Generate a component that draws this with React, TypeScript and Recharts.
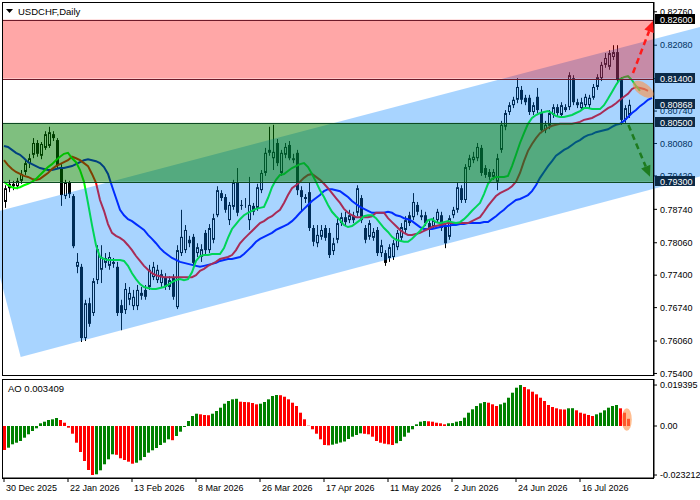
import React from 'react';
import { ComposedChart, Bar, Line, XAxis, YAxis, ReferenceArea, Cell } from 'recharts';

// ---- categories / tick labels ----
const dateTickIdx = [0, 16, 32, 48, 64, 80, 96, 112, 128, 144];
const dateLabels = ['30 Dec 2025', '22 Jan 2026', '13 Feb 2026', '8 Mar 2026', '26 Mar 2026', '17 Apr 2026', '11 May 2026', '2 Jun 2026', '24 Jun 2026', '16 Jul 2026'];
const priceTicks = [0.8276, 0.8208, 0.814, 0.8074, 0.8008, 0.7942, 0.7874, 0.7806, 0.774, 0.7674, 0.7606, 0.754];
const aoTicks = [0.019395, 0, -0.023212];

// ---- USDCHF daily OHLC ----
const openP = [
  0.7889, 0.7917, 0.7926, 0.7921, 0.7932, 0.795, 0.7968, 0.7985, 0.8009, 0.7983,
  0.7999, 0.8003, 0.8027, 0.8015, 0.796, 0.7901, 0.7928, 0.7901, 0.7757, 0.7757,
  0.7612, 0.7683, 0.7663, 0.773, 0.7751, 0.7765, 0.7759, 0.7767, 0.7757, 0.7679,
  0.7669, 0.769, 0.7677, 0.7677, 0.7698, 0.771, 0.7716, 0.7736, 0.773, 0.7724,
  0.7736, 0.7716, 0.7736, 0.7675, 0.7785, 0.7791, 0.7812, 0.7818, 0.7785, 0.7777,
  0.7826, 0.7791, 0.7812, 0.7862, 0.7907, 0.7899, 0.7852, 0.7879, 0.7928, 0.7883,
  0.7885, 0.7852, 0.7881, 0.7877, 0.7913, 0.7948, 0.7989, 0.7978, 0.8009, 0.7948,
  0.7985, 0.8005, 0.7978, 0.7989, 0.7913, 0.7899, 0.7909, 0.7836, 0.7805, 0.7818,
  0.7836, 0.7826, 0.7789, 0.7812, 0.7846, 0.7858, 0.7852, 0.7862, 0.7867, 0.7897,
  0.7836, 0.7818, 0.7816, 0.7832, 0.7785, 0.7785, 0.7775, 0.7777, 0.7797, 0.7816,
  0.7832, 0.7862, 0.7858, 0.7883, 0.7858, 0.7862, 0.7846, 0.784, 0.7852, 0.7862,
  0.7838, 0.7818, 0.7862, 0.7873, 0.7917, 0.7893, 0.796, 0.7974, 0.7978, 0.7999,
  0.7958, 0.795, 0.794, 0.793, 0.7995, 0.8042, 0.8072, 0.8086, 0.8097, 0.8117,
  0.8101, 0.8101, 0.8072, 0.8103, 0.8072, 0.8035, 0.8044, 0.8066, 0.8082, 0.8066,
  0.8076, 0.8082, 0.8141, 0.8092, 0.808, 0.8086, 0.8086, 0.8101, 0.8123, 0.8141,
  0.8168, 0.8164, 0.8184, 0.8194, 0.8137, 0.8056, 0.8066,
];
const highP = [
  0.7923, 0.7934, 0.7932, 0.7938, 0.7954, 0.7974, 0.7987, 0.8019, 0.8015, 0.8011,
  0.8033, 0.8042, 0.8033, 0.8019, 0.7966, 0.7934, 0.7932, 0.7905, 0.7785, 0.7763,
  0.769, 0.7694, 0.7734, 0.7801, 0.7801, 0.7785, 0.7787, 0.7775, 0.7767, 0.769,
  0.7724, 0.7716, 0.771, 0.772, 0.7716, 0.772, 0.7761, 0.7767, 0.7761, 0.7751,
  0.7744, 0.7738, 0.7742, 0.7801, 0.7873, 0.7842, 0.782, 0.7824, 0.7805, 0.7803,
  0.7832, 0.7844, 0.7865, 0.7921, 0.7913, 0.7905, 0.7889, 0.7934, 0.7958, 0.7893,
  0.7897, 0.794, 0.7887, 0.7926, 0.7954, 0.7999, 0.8042, 0.8046, 0.8017, 0.7995,
  0.8009, 0.8013, 0.7987, 0.7995, 0.7921, 0.7905, 0.7928, 0.7842, 0.7842, 0.7842,
  0.7842, 0.7836, 0.7816, 0.7856, 0.7867, 0.7869, 0.7873, 0.7869, 0.7923, 0.7903,
  0.7842, 0.7852, 0.7836, 0.7838, 0.7812, 0.7791, 0.7803, 0.7812, 0.7832, 0.7846,
  0.786, 0.7869, 0.7907, 0.7889, 0.7873, 0.7869, 0.7852, 0.7858, 0.7875, 0.7869,
  0.7844, 0.7862, 0.7879, 0.7928, 0.7923, 0.7966, 0.7985, 0.7991, 0.8009, 0.8005,
  0.7964, 0.7956, 0.7956, 0.7987, 0.8054, 0.8076, 0.8092, 0.8103, 0.8141, 0.8125,
  0.8107, 0.8107, 0.8092, 0.8121, 0.8078, 0.8054, 0.8076, 0.8088, 0.8088, 0.8092,
  0.8088, 0.8153, 0.8147, 0.8099, 0.8101, 0.8109, 0.8107, 0.8129, 0.8149, 0.8174,
  0.8192, 0.8198, 0.8208, 0.8208, 0.8143, 0.8086, 0.8097,
];
const lowP = [
  0.7877, 0.7909, 0.7913, 0.7915, 0.7926, 0.7944, 0.7958, 0.7978, 0.7981, 0.7976,
  0.7995, 0.7999, 0.8013, 0.7958, 0.7881, 0.7895, 0.7897, 0.7795, 0.7744, 0.7604,
  0.7606, 0.7635, 0.7657, 0.7722, 0.7724, 0.7755, 0.7751, 0.7755, 0.7657, 0.7628,
  0.7661, 0.7679, 0.7669, 0.7669, 0.769, 0.769, 0.771, 0.773, 0.7724, 0.7716,
  0.771, 0.771, 0.769, 0.7671, 0.7779, 0.7785, 0.7797, 0.7759, 0.7777, 0.7767,
  0.7783, 0.7785, 0.7805, 0.7858, 0.7891, 0.7867, 0.7842, 0.7873, 0.786, 0.7873,
  0.7877, 0.7832, 0.7862, 0.7871, 0.7907, 0.7942, 0.7983, 0.7954, 0.7962, 0.7942,
  0.7978, 0.7974, 0.7968, 0.7903, 0.7869, 0.7887, 0.783, 0.7799, 0.7797, 0.7812,
  0.781, 0.7775, 0.7781, 0.7805, 0.784, 0.784, 0.7846, 0.7846, 0.786, 0.7846,
  0.7805, 0.7812, 0.781, 0.7779, 0.7777, 0.7759, 0.7767, 0.7771, 0.7791, 0.781,
  0.7826, 0.784, 0.7852, 0.7862, 0.7852, 0.784, 0.7818, 0.7834, 0.7846, 0.783,
  0.7795, 0.7812, 0.7856, 0.7867, 0.7887, 0.7887, 0.7954, 0.7968, 0.7972, 0.7942,
  0.7938, 0.7934, 0.7934, 0.7913, 0.7989, 0.8035, 0.8066, 0.808, 0.809, 0.8088,
  0.8086, 0.8066, 0.8066, 0.807, 0.8029, 0.8029, 0.8037, 0.806, 0.8064, 0.806,
  0.8072, 0.8076, 0.8086, 0.808, 0.8074, 0.808, 0.808, 0.8097, 0.8117, 0.8135,
  0.8162, 0.8158, 0.8178, 0.8131, 0.8046, 0.805, 0.806,
];
const closeP = [
  0.7917, 0.7926, 0.7921, 0.7932, 0.7946, 0.7968, 0.7978, 0.8009, 0.7987, 0.8007,
  0.8027, 0.8031, 0.8019, 0.7964, 0.7903, 0.7928, 0.7905, 0.7799, 0.7767, 0.7612,
  0.7683, 0.7641, 0.7728, 0.7793, 0.7777, 0.7775, 0.7777, 0.7763, 0.7663, 0.7663,
  0.7712, 0.7704, 0.7696, 0.771, 0.7704, 0.7696, 0.7751, 0.7757, 0.7751, 0.7742,
  0.7716, 0.773, 0.7696, 0.7791, 0.7818, 0.7832, 0.7805, 0.7765, 0.7797, 0.7793,
  0.7791, 0.7836, 0.7856, 0.7913, 0.7897, 0.7873, 0.7883, 0.7928, 0.7867, 0.7881,
  0.7887, 0.7883, 0.7869, 0.7919, 0.7948, 0.7989, 0.7995, 0.7991, 0.7968, 0.7989,
  0.8001, 0.7978, 0.7974, 0.7913, 0.7899, 0.7895, 0.7836, 0.7808, 0.7822, 0.7832,
  0.7816, 0.7781, 0.7805, 0.7846, 0.7858, 0.7848, 0.7862, 0.7852, 0.7917, 0.7852,
  0.7812, 0.7846, 0.7828, 0.7785, 0.7801, 0.7765, 0.7797, 0.7805, 0.7826, 0.7838,
  0.7852, 0.7846, 0.7889, 0.7869, 0.7862, 0.7846, 0.7832, 0.7852, 0.7869, 0.7836,
  0.7805, 0.7856, 0.7873, 0.7919, 0.7893, 0.796, 0.7978, 0.7981, 0.8001, 0.7948,
  0.7944, 0.794, 0.795, 0.7978, 0.8046, 0.807, 0.8086, 0.8097, 0.8123, 0.8097,
  0.8092, 0.8072, 0.8086, 0.8076, 0.8035, 0.8046, 0.807, 0.8082, 0.807, 0.8086,
  0.8082, 0.8147, 0.8092, 0.8086, 0.8092, 0.8103, 0.8101, 0.8123, 0.8143, 0.8168,
  0.8182, 0.8192, 0.8194, 0.8137, 0.8056, 0.808, 0.80868,
];

// ---- Alligator lines (shifted forward) ----
const lips = [
  0.793, 0.7923, 0.7919, 0.7917, 0.7919, 0.7923, 0.7926, 0.793, 0.7936, 0.7944,
  0.7952, 0.796, 0.7966, 0.7974, 0.7981, 0.7987, 0.7989, 0.7978, 0.797, 0.7954,
  0.793, 0.7887, 0.7842, 0.7801, 0.7777, 0.7773, 0.7771, 0.7771, 0.7771, 0.7771,
  0.7769, 0.7759, 0.7744, 0.7732, 0.7722, 0.7716, 0.7714, 0.7712, 0.7712, 0.7714,
  0.7716, 0.772, 0.7726, 0.773, 0.7732, 0.773, 0.7732, 0.7746, 0.7769, 0.7779,
  0.7781, 0.7781, 0.7783, 0.7783, 0.7783, 0.7795, 0.7816, 0.7834, 0.7844, 0.7854,
  0.7862, 0.7867, 0.7871, 0.7875, 0.7877, 0.7879, 0.7897, 0.7919, 0.7934, 0.7944,
  0.7946, 0.7952, 0.7958, 0.7962, 0.7966, 0.7968, 0.796, 0.7946, 0.793, 0.7913,
  0.7899, 0.7883, 0.7869, 0.786, 0.7852, 0.7842, 0.7838, 0.784, 0.7846, 0.7852,
  0.786, 0.7862, 0.7862, 0.7856, 0.7846, 0.7836, 0.7828, 0.7818, 0.7812, 0.781,
  0.7808, 0.7808, 0.7814, 0.7822, 0.783, 0.784, 0.7852, 0.7854, 0.7848, 0.7846,
  0.7848, 0.785, 0.7848, 0.7846, 0.7848, 0.7854, 0.7862, 0.7871, 0.7879, 0.7887,
  0.7905, 0.7926, 0.7936, 0.794, 0.794, 0.794, 0.7942, 0.7962, 0.7985, 0.8009,
  0.8029, 0.8048, 0.806, 0.8066, 0.807, 0.8072, 0.8074, 0.807, 0.8064, 0.8062,
  0.8062, 0.8064, 0.8066, 0.807, 0.8074, 0.808, 0.808, 0.8078, 0.8078, 0.8078,
  0.8086, 0.8099, 0.8113, 0.8127, 0.8139, 0.8143, 0.8145, 0.8137, 0.8125, 0.8115,
];
const teeth = [
  0.7974, 0.7964, 0.7956, 0.795, 0.7946, 0.7942, 0.794, 0.7936, 0.7934, 0.7936,
  0.7942, 0.7948, 0.7956, 0.7962, 0.7966, 0.797, 0.7974, 0.7981, 0.7978, 0.7974,
  0.7968, 0.7962, 0.7946, 0.7928, 0.7893, 0.7871, 0.7844, 0.7826, 0.782, 0.7816,
  0.781, 0.7801, 0.7791, 0.7779, 0.7769, 0.7759, 0.7751, 0.7744, 0.774, 0.7738,
  0.7736, 0.7736, 0.7736, 0.7736, 0.7736, 0.7736, 0.7736, 0.7736, 0.774, 0.7749,
  0.7753, 0.7759, 0.7763, 0.7767, 0.7773, 0.7775, 0.7777, 0.7781, 0.7791, 0.7805,
  0.7814, 0.7822, 0.783, 0.7838, 0.7846, 0.785, 0.7856, 0.786, 0.7867, 0.7873,
  0.7887, 0.7903, 0.7917, 0.7923, 0.793, 0.7938, 0.7944, 0.7946, 0.794, 0.7934,
  0.7926, 0.7917, 0.7907, 0.7897, 0.7887, 0.7875, 0.7867, 0.7862, 0.7858, 0.7858,
  0.7858, 0.7858, 0.786, 0.7867, 0.7867, 0.7867, 0.7856, 0.7848, 0.784, 0.7832,
  0.7826, 0.7822, 0.7822, 0.7824, 0.7826, 0.783, 0.7834, 0.7838, 0.784, 0.7842,
  0.7844, 0.7846, 0.7846, 0.7846, 0.7846, 0.7846, 0.7846, 0.785, 0.7854, 0.7858,
  0.7869, 0.7881, 0.7891, 0.7901, 0.7907, 0.7911, 0.7915, 0.7921, 0.793, 0.7948,
  0.7972, 0.7993, 0.8007, 0.8019, 0.8029, 0.8035, 0.804, 0.8044, 0.8046, 0.8048,
  0.8048, 0.8048, 0.8048, 0.805, 0.8052, 0.8056, 0.8058, 0.806, 0.8064, 0.8068,
  0.8074, 0.808, 0.8084, 0.809, 0.8097, 0.8103, 0.8109, 0.8119, 0.8123, 0.8121,
  0.8119, 0.8115,
];
const jaw = [
  0.8003, 0.8001, 0.7995, 0.7989, 0.7985, 0.7978, 0.797, 0.7966, 0.7962, 0.7958,
  0.7956, 0.7954, 0.7954, 0.7956, 0.7958, 0.7958, 0.796, 0.7962, 0.7966, 0.797,
  0.7974, 0.7976, 0.7974, 0.7972, 0.7968, 0.796, 0.7946, 0.7921, 0.7897, 0.7873,
  0.7862, 0.7854, 0.785, 0.7844, 0.7838, 0.7832, 0.7822, 0.7814, 0.7805, 0.7795,
  0.7787, 0.7781, 0.7775, 0.7771, 0.7767, 0.7765, 0.7763, 0.7761, 0.7759, 0.7757,
  0.7759, 0.7761, 0.7763, 0.7765, 0.7769, 0.7771, 0.7773, 0.7773, 0.7775, 0.7777,
  0.7783, 0.7791, 0.7799, 0.7808, 0.7814, 0.7818, 0.7822, 0.7826, 0.7832, 0.7836,
  0.784, 0.7844, 0.785, 0.7858, 0.7867, 0.7875, 0.7883, 0.7891, 0.7897, 0.7903,
  0.7911, 0.7915, 0.7915, 0.7913, 0.7911, 0.7905, 0.7899, 0.7891, 0.7885, 0.7879,
  0.7875, 0.7871, 0.7867, 0.7867, 0.7867, 0.7867, 0.7869, 0.7867, 0.7862, 0.786,
  0.7856, 0.7854, 0.785, 0.7844, 0.7838, 0.7834, 0.7834, 0.7834, 0.7836, 0.7838,
  0.784, 0.784, 0.7842, 0.7842, 0.7844, 0.7844, 0.7846, 0.7846, 0.7846, 0.7846,
  0.7848, 0.7848, 0.7854, 0.786, 0.7867, 0.7873, 0.7881, 0.7887, 0.7893, 0.7895,
  0.7899, 0.7903, 0.7911, 0.7923, 0.7938, 0.795, 0.7962, 0.7972, 0.7983, 0.7989,
  0.7995, 0.7999, 0.8005, 0.8011, 0.8015, 0.8021, 0.8025, 0.8027, 0.8031, 0.8033,
  0.8035, 0.8037, 0.8042, 0.8046, 0.8048, 0.8054, 0.8062, 0.807, 0.8076, 0.8084,
  0.809, 0.8097, 0.8101,
];

// ---- Awesome Oscillator ----
const ao = [
  -0.01136, -0.01027, -0.00867, -0.00791, -0.0071, -0.00554, -0.00393, -0.00237, -0.00109, 0.00128,
  0.00204, 0.00284, 0.00317, 0.00379, 0.00284, 0.00156, -0.0008, -0.00365, -0.00791, -0.01231,
  -0.01657, -0.02083, -0.023212, -0.02287, -0.02098, -0.01813, -0.01577, -0.0134, -0.01364, -0.01529,
  -0.0161, -0.0169, -0.01785, -0.01738, -0.01624, -0.01468, -0.01264, -0.01151, -0.01042, -0.009,
  -0.00791, -0.0063, -0.00672, -0.00474, -0.0027, -0.00047, 0.00237, 0.00474, 0.00582, 0.00554,
  0.00521, 0.00511, 0.00582, 0.0071, 0.00867, 0.01056, 0.01184, 0.01264, 0.01288, 0.01151,
  0.01136, 0.01127, 0.01089, 0.01027, 0.01056, 0.01136, 0.01264, 0.01421, 0.01468, 0.01458,
  0.01387, 0.01264, 0.01103, 0.00947, 0.0063, 0.00317, 0.00014, -0.00156, -0.00365, -0.0063,
  -0.009, -0.00914, -0.00885, -0.00838, -0.00781, -0.00734, -0.00616, -0.00507, -0.00426, -0.00346,
  -0.00369, -0.00393, -0.00507, -0.0071, -0.00791, -0.00838, -0.00867, -0.009, -0.00819, -0.0071,
  -0.00507, -0.00317, -0.00156, 0.0008, 0.00204, 0.00237, 0.00223, 0.00204, 0.00156, 0.00128,
  0.0008, 0.00128, 0.00137, 0.00204, 0.00237, 0.00393, 0.0063, 0.00791, 0.00947, 0.01075,
  0.01136, 0.01103, 0.01027, 0.00947, 0.01027, 0.01103, 0.0134, 0.01577, 0.01814, 0.019395,
  0.01847, 0.01738, 0.01624, 0.01501, 0.0134, 0.01184, 0.00994, 0.009, 0.00838, 0.00791,
  0.00781, 0.00838, 0.00843, 0.00743, 0.0063, 0.00582, 0.00521, 0.00474, 0.00554, 0.0063,
  0.00743, 0.00867, 0.00947, 0.00994, 0.00838, 0.0063, 0.003409,
];

// ---- drawing objects (in data coordinates: bar index, price) ----
const sellZone = [0.814, 0.826];
const buyZone = [0.793, 0.805];
const channelIdx = [-5, 4.175, 174, 174];
const channelPrice = [0.78625, 0.75735, 0.79408, 0.82453];
const upArrowIdx = [157.25, 162.25];
const upArrowPrice = [0.81514, 0.82573];
const downArrowIdx = [156.1, 161.5];
const downArrowPrice = [0.80456, 0.79404];
const focusMain = { i: 159.8, p: 0.81183, di: 3, dp: 0.00125 };
const focusAo = { i: 155.7, v: 0.00308, di: 1.25, dv: 0.0053 };

const N = 163;
const Y_MIN = 0.753484;
const Y_MAX = 0.829593;
const AO_MIN = -0.024621;
const AO_MAX = 0.022254;
const NAVY = '#0b2a48';
const FONT = "'Liberation Sans', Arial, sans-serif";

const rows = Array.from({ length: N }, (_, i) => ({
  i,
  open: i < closeP.length ? openP[i] : null,
  high: i < closeP.length ? highP[i] : null,
  low: i < closeP.length ? lowP[i] : null,
  close: i < closeP.length ? closeP[i] : null,
  range: i < closeP.length ? [lowP[i], highP[i]] : null,
  lips: i < lips.length ? lips[i] : null,
  teeth: i < teeth.length ? teeth[i] : null,
  jaw: i < jaw.length ? jaw[i] : null,
  ao: i < ao.length ? ao[i] : null,
}));

const aoColors = rows.map((r, i) => (i > 0 && r.ao != null && rows[i - 1].ao != null && (r.ao as number) > (rows[i - 1].ao as number) ? '#008000' : '#ff0000'));

const Candle = (props: any) => {
  const { x, y, width, height, payload } = props;
  if (!payload || payload.close == null || x == null) return <g />;
  const { open, close, high, low } = payload;
  const top = Math.min(y, y + height);
  const h = Math.abs(height);
  const k = high === low ? 0 : h / (high - low);
  const yO = top + (high - open) * k;
  const yC = top + (high - close) * k;
  const cx = Math.round(x + width / 2);
  const bull = close >= open;
  const bTop = Math.min(yO, yC);
  const bH = Math.max(1, Math.abs(yC - yO));
  return (
    <g>
      <line x1={cx + 0.5} x2={cx + 0.5} y1={top} y2={top + h} stroke="#000" strokeWidth={1} />
      {bull ? (
        <rect x={cx - 0.5} y={bTop + 0.5} width={2} height={Math.max(0, bH - 1)} fill="#fff" stroke="#000" strokeWidth={1} />
      ) : (
        <rect x={cx - 1} y={bTop} width={3} height={bH} fill="#000" />
      )}
    </g>
  );
};

function arrow(sx: number, sy: number, tx: number, ty: number, color: string, key: string) {
  const dx = tx - sx;
  const dy = ty - sy;
  const L = Math.hypot(dx, dy);
  const ux = dx / L;
  const uy = dy / L;
  const hl = 11;
  const hw = 5;
  const bx = tx - ux * hl;
  const by = ty - uy * hl;
  return (
    <g key={key}>
      <line x1={sx} y1={sy} x2={bx} y2={by} stroke={color} strokeWidth={2.5} strokeDasharray="6 4" />
      <polygon points={`${tx},${ty} ${bx - uy * hw},${by + ux * hw} ${bx + uy * hw},${by - ux * hw}`} fill={color} />
    </g>
  );
}

const MainOverlay = (props: any) => {
  const { x, y, width, height } = props;
  if (x == null) return <g />;
  const X = (i: number) => x + ((i + 0.5) * width) / N;
  const Y = (p: number) => y + ((Y_MAX - p) / (Y_MAX - Y_MIN)) * height;
  const left = x;
  const right = x + width;
  const chan = channelIdx.map((ci, k) => `${X(ci)},${Y(channelPrice[k])}`).join(' ');
  const marks = [
    { v: sellZone[1], bg: '#000' },
    { v: sellZone[0], bg: NAVY },
    { v: closeP[closeP.length - 1], bg: NAVY },
    { v: buyZone[1], bg: NAVY },
    { v: buyZone[0], bg: NAVY },
  ];
  const ecx = X(focusMain.i);
  const ecy = Y(focusMain.p);
  const erx = (focusMain.di * width) / N;
  const ery = (focusMain.dp * height) / (Y_MAX - Y_MIN);
  return (
    <g>
      <polygon points={chan} fill="rgba(0,128,255,0.34)" />
      <rect x={left} y={Y(sellZone[1])} width={width} height={Y(sellZone[0]) - Y(sellZone[1])} fill="rgba(255,0,0,0.345)" />
      <rect x={left} y={Y(buyZone[1])} width={width} height={Y(buyZone[0]) - Y(buyZone[1])} fill="rgba(0,128,0,0.5)" />
      {sellZone.map((v, k) => (
        <line key={`s${k}`} x1={left} x2={right} y1={Math.round(Y(v)) + 0.5} y2={Math.round(Y(v)) + 0.5} stroke="#6e1a2a" strokeWidth={1} />
      ))}
      {buyZone.map((v, k) => (
        <line key={`b${k}`} x1={left} x2={right} y1={Math.round(Y(v)) + 0.5} y2={Math.round(Y(v)) + 0.5} stroke="#0d4a22" strokeWidth={1} />
      ))}
      <rect x={left + 0.5} y={y + 0.5} width={width - 1} height={height - 1} fill="none" stroke="#000" strokeWidth={1} />
      <ellipse cx={ecx} cy={ecy} rx={erx} ry={ery} fill="rgba(255,145,70,0.6)" transform={`rotate(35 ${ecx} ${ecy})`} />
      {arrow(X(upArrowIdx[0]), Y(upArrowPrice[0]), X(upArrowIdx[1]), Y(upArrowPrice[1]), '#ff1a1a', 'up')}
      {arrow(X(downArrowIdx[0]), Y(downArrowPrice[0]), X(downArrowIdx[1]), Y(downArrowPrice[1]), '#1e7b1e', 'down')}
      {marks.map((m, k) => (
        <g key={`m${k}`}>
          <rect x={right + 1} y={Math.round(Y(m.v)) - 6} width={40} height={10} fill={m.bg} />
          <text x={right + 6} y={Math.round(Y(m.v)) + 2.5} fill="#fff" fontSize={9} fontFamily={FONT}>
            {m.v.toFixed(5)}
          </text>
        </g>
      ))}
      <polygon points={`${left + 4},${y + 7} ${left + 11},${y + 7} ${left + 7.5},${y + 11}`} fill="#000" />
      <text x={left + 16} y={y + 12.5} fill="#000" fontSize={9.5} fontFamily={FONT}>
        USDCHF,Daily
      </text>
    </g>
  );
};

const AoOverlay = (props: any) => {
  const { x, y, width, height } = props;
  if (x == null) return <g />;
  const X = (i: number) => x + ((i + 0.5) * width) / N;
  const Y = (v: number) => y + ((AO_MAX - v) / (AO_MAX - AO_MIN)) * height;
  const ecx = X(focusAo.i);
  const ecy = Y(focusAo.v);
  return (
    <g>
      <ellipse cx={ecx} cy={ecy} rx={(focusAo.di * width) / N} ry={(focusAo.dv * height) / (AO_MAX - AO_MIN)} fill="rgba(255,145,70,0.6)" />
      <rect x={x + 0.5} y={y + 0.5} width={width - 1} height={height} fill="none" stroke="#000" strokeWidth={1} />
      <text x={x + 6} y={y + 12.5} fill="#000" fontSize={9.5} fontFamily={FONT}>
        {`AO ${ao[ao.length - 1].toFixed(6)}`}
      </text>
    </g>
  );
};

const DateTick = (props: any) => {
  const { x, y, payload } = props;
  const k = dateTickIdx.indexOf(payload.value);
  if (k < 0) return <g />;
  return (
    <text x={x + 2} y={y} dy={9} fontSize={9} fill="#000" textAnchor="start" fontFamily={FONT}>
      {dateLabels[k]}
    </text>
  );
};

const fmtPrice = (v: number) => v.toFixed(5);
const fmtAo = (v: number) => (v === 0 ? '0.00' : v.toFixed(6));

export default function App() {
  return (
    <div style={{ position: 'absolute', left: 0, top: 0, width: 700, height: 500, background: '#fff', fontFamily: FONT }}>
      <div style={{ position: 'absolute', left: 0, top: 0 }}>
        <ComposedChart width={700} height={378} data={rows} margin={{ top: 2, right: 0, bottom: 2, left: 2 }}>
          <XAxis dataKey="i" hide />
          <Bar dataKey="range" barSize={3} shape={(p: any) => <Candle {...p} />} isAnimationActive={false} />
          <Line dataKey="jaw" stroke="#0000ff" strokeWidth={2} dot={false} activeDot={false} isAnimationActive={false} />
          <Line dataKey="teeth" stroke="#ff0000" strokeWidth={2} dot={false} activeDot={false} isAnimationActive={false} />
          <Line dataKey="lips" stroke="#00ff00" strokeWidth={2} dot={false} activeDot={false} isAnimationActive={false} />
          <YAxis
            orientation="right"
            width={46}
            domain={[Y_MIN, Y_MAX]}
            allowDataOverflow
            ticks={priceTicks}
            interval={0}
            tickFormatter={fmtPrice}
            tickSize={3}
            tickMargin={3}
            axisLine={{ stroke: '#000' }}
            tickLine={{ stroke: '#000' }}
            tick={{ fontSize: 9, fill: '#000', fontFamily: FONT }}
          />
          <ReferenceArea y1={Y_MIN} y2={Y_MAX} zIndex={2500} shape={(p: any) => <MainOverlay {...p} />} />
        </ComposedChart>
      </div>
      <div style={{ position: 'absolute', left: 0, top: 378 }}>
        <ComposedChart width={700} height={120} data={rows} margin={{ top: 1, right: 0, bottom: 0, left: 2 }}>
          <XAxis
            dataKey="i"
            height={20}
            ticks={dateTickIdx}
            interval={0}
            tickSize={4}
            tickMargin={0}
            axisLine={{ stroke: '#000' }}
            tickLine={{ stroke: '#000' }}
            tick={(p: any) => <DateTick {...p} />}
          />
          <Bar dataKey="ao" barSize={3} isAnimationActive={false}>
            {rows.map((r, k) => (
              <Cell key={k} fill={aoColors[k]} />
            ))}
          </Bar>
          <YAxis
            orientation="right"
            width={46}
            domain={[AO_MIN, AO_MAX]}
            allowDataOverflow
            ticks={aoTicks}
            interval={0}
            tickFormatter={fmtAo}
            tickSize={3}
            tickMargin={3}
            axisLine={{ stroke: '#000' }}
            tickLine={{ stroke: '#000' }}
            tick={{ fontSize: 9, fill: '#000', fontFamily: FONT }}
          />
          <ReferenceArea y1={AO_MIN} y2={AO_MAX} zIndex={2500} shape={(p: any) => <AoOverlay {...p} />} />
        </ComposedChart>
      </div>
    </div>
  );
}
